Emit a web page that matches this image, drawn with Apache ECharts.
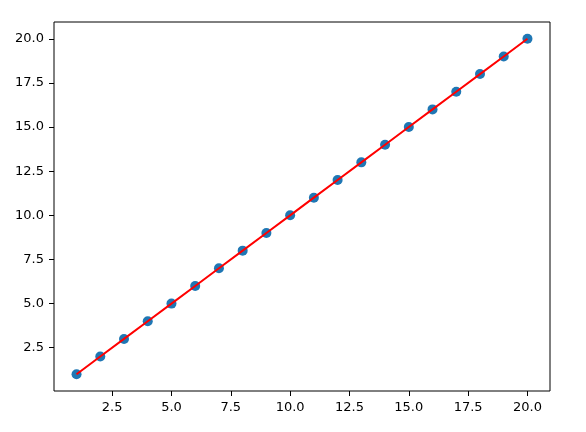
<!DOCTYPE html>
<html>
<head>
<meta charset="utf-8">
<script src="https://cdn.jsdelivr.net/npm/echarts@6/dist/echarts.min.js"></script>
<style>
html,body{margin:0;padding:0;background:#fff;}
#chart{width:586px;height:432px;}
</style>
</head>
<body>
<div id="chart"></div>
<script>
const xValues = [1,2,3,4,5,6,7,8,9,10,11,12,13,14,15,16,17,18,19,20];
const yValues = [1,2,3,4,5,6,7,8,9,10,11,12,13,14,15,16,17,18,19,20];
const xTicks = [2.5,5.0,7.5,10.0,12.5,15.0,17.5,20.0];
const yTicks = [2.5,5.0,7.5,10.0,12.5,15.0,17.5,20.0];
const axisMin = 0.05, axisMax = 20.95;

const points = xValues.map((x,i)=>[x,yValues[i]]);
const font = {fontFamily:'DejaVu Sans', fontSize:13, color:'#000'};

const chart = echarts.init(document.getElementById('chart'), null, {renderer:'canvas'});
chart.setOption({
  animation:false,
  backgroundColor:'#fff',
  grid:{left:54, right:36, top:22, bottom:41, show:true, borderColor:'#000', borderWidth:1, backgroundColor:'transparent'},
  xAxis:{
    type:'value', min:axisMin, max:axisMax,
    axisLine:{show:false},
    splitLine:{show:false},
    axisTick:{show:true, length:5, inside:false, lineStyle:{color:'#000', width:1}, customValues:xTicks},
    axisLabel:{show:true, margin:10, customValues:xTicks, formatter:v=>v.toFixed(1), ...font}
  },
  yAxis:{
    type:'value', min:axisMin, max:axisMax,
    axisLine:{show:false},
    splitLine:{show:false},
    axisTick:{show:true, length:5, inside:false, lineStyle:{color:'#000', width:1}, customValues:yTicks},
    axisLabel:{show:true, margin:10, customValues:yTicks, formatter:v=>v.toFixed(1), ...font}
  },
  series:[
    {type:'scatter', data:points, symbol:'circle', symbolSize:10, itemStyle:{color:'#1f77b4', opacity:1}, z:2},
    {type:'line', data:points, showSymbol:false, symbol:'none', lineStyle:{color:'#ff0000', width:2}, z:3}
  ]
});
</script>
</body>
</html>
